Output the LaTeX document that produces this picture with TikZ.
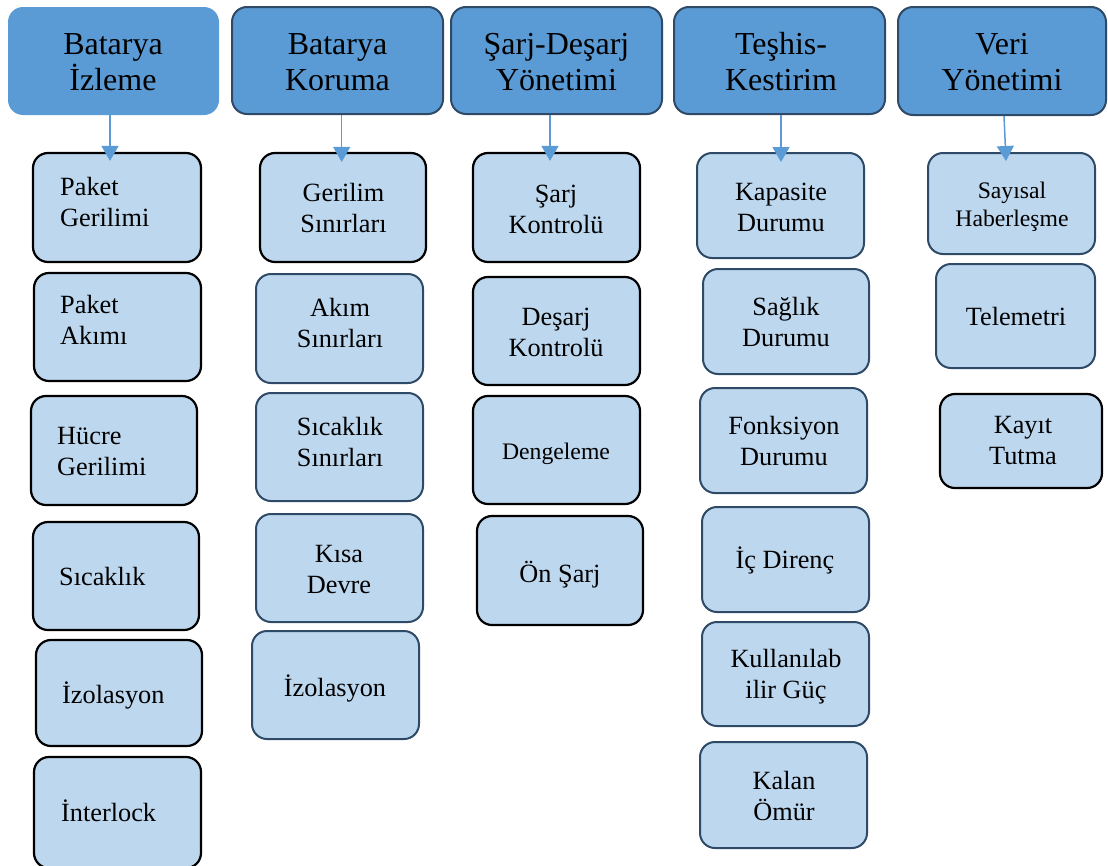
\documentclass[tikz,border=0pt]{standalone}
\usepackage{fontspec}
\setmainfont{Liberation Serif}
\usetikzlibrary{arrows.meta}
\definecolor{hfill}{HTML}{5B9BD5}
\definecolor{cfill}{HTML}{BDD7EE}
\definecolor{dborder}{HTML}{2E4A66}
\definecolor{arrowc}{HTML}{5B9BD5}
\tikzset{
  hdrplain/.style={rounded corners=15pt, fill=hfill, draw=none, inner sep=0pt},
  hdr/.style={rounded corners=15pt, fill=hfill, draw=dborder, line width=2pt, inner sep=0pt},
  cbk/.style={rounded corners=15pt, fill=cfill, draw=black, line width=2.2pt, inner sep=0pt},
  cbb/.style={rounded corners=15pt, fill=cfill, draw=dborder, line width=2pt, inner sep=0pt},
  htxt/.style={font=\fontsize{32}{36}\selectfont, align=center, inner sep=0pt},
  ctxt/.style={font=\fontsize{26.3}{31}\selectfont, align=center, inner sep=0pt},
  ltxt/.style={font=\fontsize{26.3}{31}\selectfont, align=left, inner sep=0pt},
  stxt/.style={font=\fontsize{23.7}{28}\selectfont, align=center, inner sep=0pt},
  arr/.style={draw=arrowc, line width=1.5pt, -{Triangle[width=17pt,length=15pt]}}
}
\begin{document}
\begin{tikzpicture}[x=1pt,y=-1pt]
\useasboundingbox (0,0) rectangle (1108,865);
% headers
\node[hdrplain, minimum width=211pt, minimum height=108pt] (h1) at (113.5,61) {};
\node[hdr, minimum width=211pt, minimum height=107pt] (h2) at (337.5,60.5) {};
\node[hdr, minimum width=211pt, minimum height=107pt] (h3) at (556.5,60.5) {};
\node[hdr, minimum width=211pt, minimum height=107pt] (h4) at (779.5,60.5) {};
\node[hdr, minimum width=208pt, minimum height=108pt] (h5) at (1002,61) {};
\node[htxt] (h1t) at (113,62) {Batarya\\İzleme};
\node[htxt] (h2t) at (337.5,62) {Batarya\\Koruma};
\node[htxt] (h3t) at (556.5,62) {Şarj-Deşarj\\Yönetimi};
\node[htxt] (h4t) at (781,62) {Teşhis-\\Kestirim};
\node[htxt] (h5t) at (1002,62) {Veri\\Yönetimi};
% column 1
\node[cbk, minimum width=168pt, minimum height=109pt] (b11) at (117,207.5) {};
\node[cbk, minimum width=167pt, minimum height=108pt] (b12) at (117.5,327) {};
\node[cbk, minimum width=166pt, minimum height=109pt] (b13) at (114,450.5) {};
\node[cbk, minimum width=166pt, minimum height=108pt] (b14) at (116,576) {};
\node[cbk, minimum width=166pt, minimum height=106pt] (b15) at (119,693) {};
\node[cbk, minimum width=167pt, minimum height=111pt] (b16) at (117.5,812.5) {};
\node[ltxt, anchor=west] (b11t) at (60,202) {Paket\\Gerilimi};
\node[ltxt, anchor=west] (b12t) at (60,320) {Paket\\Akımı};
\node[ltxt, anchor=west] (b13t) at (57,451.5) {Hücre\\Gerilimi};
\node[ltxt, anchor=base west] (b14t) at (59,585) {Sıcaklık};
\node[ltxt, anchor=base west] (b15t) at (62,703) {İzolasyon};
\node[ltxt, anchor=base west] (b16t) at (61,821) {İnterlock};
% column 2
\node[cbk, minimum width=166pt, minimum height=109pt] (b21) at (343,207.5) {};
\node[cbb, minimum width=167pt, minimum height=109pt] (b22) at (339.5,328.5) {};
\node[cbb, minimum width=167pt, minimum height=108pt] (b23) at (339.5,447) {};
\node[cbb, minimum width=167pt, minimum height=108pt] (b24) at (339.5,568) {};
\node[cbb, minimum width=167pt, minimum height=108pt] (b25) at (335.5,685) {};
\node[ctxt] (b21t) at (343.5,208) {Gerilim\\Sınırları};
\node[ctxt] (b22t) at (340,323) {Akım\\Sınırları};
\node[ctxt] (b23t) at (340,441.5) {Sıcaklık\\Sınırları};
\node[ctxt] (b24t) at (339,570) {Kısa\\Devre};
\node[ctxt, anchor=base] (b25t) at (335,696) {İzolasyon};
% column 3
\node[cbk, minimum width=167pt, minimum height=109pt] (b31) at (556.5,207.5) {};
\node[cbk, minimum width=167pt, minimum height=108pt] (b32) at (556.5,331) {};
\node[cbk, minimum width=167pt, minimum height=108pt] (b33) at (556.5,450) {};
\node[cbk, minimum width=166pt, minimum height=109pt] (b34) at (560,570.5) {};
\node[ctxt] (b31t) at (556,209) {Şarj\\Kontrolü};
\node[ctxt] (b32t) at (556,332) {Deşarj\\Kontrolü};
\node[stxt, anchor=base] (b33t) at (556,459) {Dengeleme};
\node[ctxt, anchor=base] (b34t) at (560,582) {Ön Şarj};
% column 4
\node[cbb, minimum width=167pt, minimum height=105pt] (b41) at (780.5,205.5) {};
\node[cbb, minimum width=166pt, minimum height=105pt] (b42) at (786,321.5) {};
\node[cbb, minimum width=167pt, minimum height=105pt] (b43) at (783.5,440.5) {};
\node[cbb, minimum width=167pt, minimum height=105pt] (b44) at (785.5,559.5) {};
\node[cbb, minimum width=167pt, minimum height=104pt] (b45) at (785.5,674) {};
\node[cbb, minimum width=167pt, minimum height=106pt] (b46) at (783.5,795) {};
\node[ctxt] (b41t) at (781,207) {Kapasite\\Durumu};
\node[ctxt] (b42t) at (786,322) {Sağlık\\Durumu};
\node[ctxt] (b43t) at (784,441) {Fonksiyon\\Durumu};
\node[ctxt, anchor=base] (b44t) at (785,568) {İç Direnç};
\node[ctxt] (b45t) at (786,677) {Kullanılab\\ilir Güç};
\node[ctxt] (b46t) at (784,795.5) {Kalan\\Ömür};
% column 5
\node[cbb, minimum width=167pt, minimum height=101pt] (b51) at (1011.5,203.5) {};
\node[cbb, minimum width=159pt, minimum height=104pt] (b52) at (1015.5,316) {};
\node[cbk, minimum width=162pt, minimum height=94pt] (b53) at (1021,441) {};
\node[stxt] (b51t) at (1012,207) {Sayısal\\Haberleşme};
\node[ctxt, anchor=base] (b52t) at (1016,325) {Telemetri};
\node[ctxt] (b53t) at (1023,441) {Kayıt\\Tutma};
% arrows
\draw[arr] ([xshift=-3.5pt]h1.south) -- ([xshift=-7pt,yshift=-9pt]b11.north);
\draw[arr] ([xshift=4.2pt]h2.south) -- ([xshift=-1.3pt,yshift=-10pt]b21.north);
\draw[arr] ([xshift=-6.5pt]h3.south) -- ([xshift=-6.5pt,yshift=-9pt]b31.north);
\draw[arr] ([xshift=1.5pt]h4.south) -- ([xshift=0.5pt,yshift=-10pt]b41.north);
\draw[arr] ([xshift=2pt]h5.south) -- ([xshift=-5.5pt,yshift=-9pt]b51.north);
\end{tikzpicture}
\end{document}
